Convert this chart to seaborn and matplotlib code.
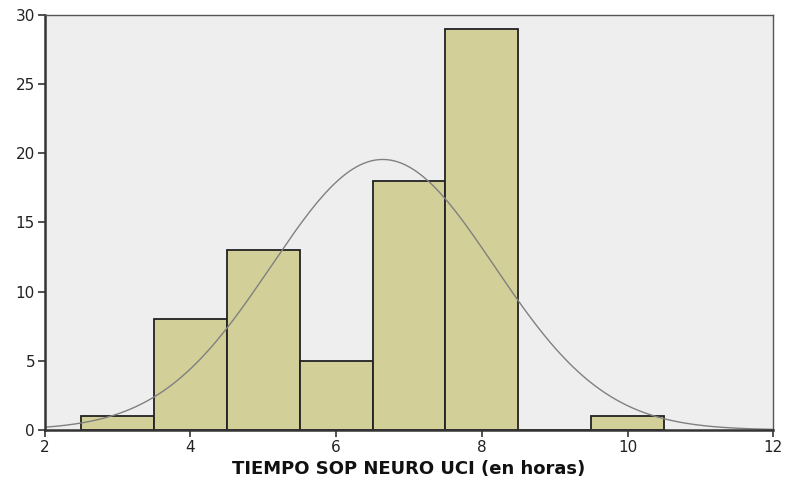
import numpy as np
import pandas as pd
import seaborn as sns
import matplotlib
matplotlib.use("Agg")
import matplotlib.pyplot as plt

# Data (bin centers in hours, frequencies)
hours = [3, 4, 5, 6, 7, 8, 9, 10]
counts = [1, 8, 13, 5, 18, 29, 0, 1]
bin_edges = [2.5, 3.5, 4.5, 5.5, 6.5, 7.5, 8.5, 9.5, 10.5]
x_ticks = [2, 4, 6, 8, 10, 12]
y_ticks = [0, 5, 10, 15, 20, 25, 30]
x_label = "TIEMPO SOP NEURO UCI (en horas)"

df = pd.DataFrame({"hours": hours, "count": counts})

sns.set_style("white")
plt.rcParams["font.family"] = ["DejaVu Sans"]

fig = plt.figure(figsize=(7.85, 4.82), dpi=100)
ax = fig.add_axes([0.057, 0.108, 0.928, 0.861])
ax.set_facecolor("#eeeeee")

sns.histplot(data=df, x="hours", weights="count", bins=bin_edges, ax=ax,
             color="#d2cf98", alpha=1.0, edgecolor="#222222", linewidth=1.3)

# Normal curve fitted to the data (as SPSS does)
vals = np.repeat(np.array(hours, dtype=float), counts)
mu = vals.mean()
sd = vals.std(ddof=1)
n = len(vals)
xs = np.linspace(2, 12, 400)
ys = n * 1.0 / (sd * np.sqrt(2 * np.pi)) * np.exp(-0.5 * ((xs - mu) / sd) ** 2)
sns.lineplot(x=xs, y=ys, ax=ax, color="#808080", linewidth=1.0)

ax.set_xlim(2, 12)
ax.set_ylim(0, 30)
ax.set_xticks(x_ticks)
ax.set_yticks(y_ticks)
ax.set_xticklabels([str(t) for t in x_ticks])
ax.set_yticklabels([str(t) for t in y_ticks])
ax.tick_params(axis="both", direction="out", length=5, width=1.2, color="#333333",
               labelsize=11, labelcolor="#222222", pad=2,
               bottom=True, left=True)
ax.set_xlabel(x_label, fontsize=13, fontweight="bold", color="#111111", labelpad=4)
ax.set_ylabel("")

for side in ["left", "bottom"]:
    ax.spines[side].set_color("#333333")
    ax.spines[side].set_linewidth(1.8)
for side in ["top", "right"]:
    ax.spines[side].set_visible(True)
    ax.spines[side].set_color("#555555")
    ax.spines[side].set_linewidth(1.0)

fig.savefig("out.png", dpi=100, facecolor="white")
